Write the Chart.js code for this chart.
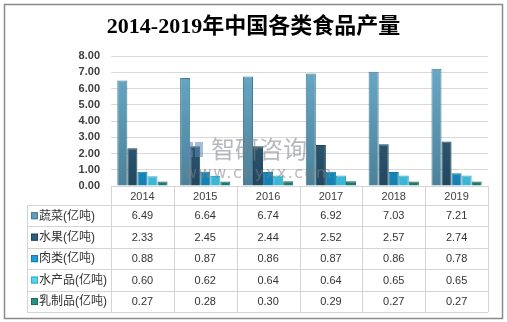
<!DOCTYPE html>
<html>
<head>
<meta charset="utf-8">
<script src="https://cdn.jsdelivr.net/npm/chart.js@4/dist/chart.umd.min.js"></script>
<style>
html,body{margin:0;padding:0;background:#fff;}
canvas{display:block;}
</style>
</head>
<body>
<canvas id="c" width="507" height="322"></canvas>
<script>
const years = ['2014','2015','2016','2017','2018','2019'];
const seriesNames = ['蔬菜(亿吨)','水果(亿吨)','肉类(亿吨)','水产品(亿吨)','乳制品(亿吨)'];
const vegetables = [6.49,6.64,6.74,6.92,7.03,7.21];
const fruit = [2.33,2.45,2.44,2.52,2.57,2.74];
const meat = [0.88,0.87,0.86,0.87,0.86,0.78];
const aquatic = [0.60,0.62,0.64,0.64,0.65,0.65];
const dairy = [0.27,0.28,0.30,0.29,0.27,0.27];
const yTicks = [0,1,2,3,4,5,6,7,8];

const fills = ['#5f9fbd','#2f5f7e','#1ba2de','#58d2ef','#2a9484'];
const lights = ['#6aaccb','#3c6b8a','#22abe6','#66def6','#30a391'];
const darks = ['#4c8198','#22485f','#1580b2','#3ab6d4','#1d776a'];
const edges = ['#467a91','#1f4358','#1379a8','#36a9c5','#1b6c60'];

const FONT = '"Liberation Sans","Noto Sans CJK SC",sans-serif';
const ROW_H = 21.45;
const TABLE_LEFT = 27;
const HEADER_H = 19;

function barFill(i) {
  return function(c) {
    const a = c.chart.chartArea;
    if (!a) return fills[i];
    const g = c.chart.ctx.createLinearGradient(0, a.top, 0, a.bottom);
    g.addColorStop(0, lights[i]);
    g.addColorStop(1, darks[i]);
    return g;
  };
}

const tablePlugin = {
  id: 'dataTable',
  afterDraw(chart) {
    const ctx = chart.ctx;
    const xs = chart.scales.x;
    const area = chart.chartArea;
    const top = area.bottom;
    const rowsTop = top + HEADER_H;
    const nRows = chart.data.datasets.length;
    const bottom = rowsTop + ROW_H * nRows;
    const n = chart.data.labels.length;
    const cw = (area.right - area.left) / n;
    ctx.save();
    ctx.strokeStyle = '#d4d4d4';
    ctx.lineWidth = 1;
    ctx.beginPath();
    ctx.moveTo(area.left, Math.round(top) + 0.5);
    ctx.lineTo(area.right, Math.round(top) + 0.5);
    ctx.stroke();
    for (let r = 0; r <= nRows; r++) {
      const y = Math.round(rowsTop + r * ROW_H) + 0.5;
      ctx.beginPath();
      ctx.moveTo(TABLE_LEFT, y);
      ctx.lineTo(area.right, y);
      ctx.stroke();
    }
    for (let i = 0; i <= n; i++) {
      const x = Math.round(area.left + i * cw) + 0.5;
      ctx.beginPath();
      ctx.moveTo(x, top);
      ctx.lineTo(x, bottom);
      ctx.stroke();
    }
    ctx.beginPath();
    ctx.moveTo(TABLE_LEFT + 0.5, rowsTop);
    ctx.lineTo(TABLE_LEFT + 0.5, bottom);
    ctx.stroke();
    ctx.textBaseline = 'middle';
    chart.data.datasets.forEach((ds, r) => {
      const cy = rowsTop + r * ROW_H + ROW_H / 2 + 0.5;
      ctx.fillStyle = fills[r];
      ctx.fillRect(TABLE_LEFT + 4, cy - 4, 7, 7);
      ctx.strokeStyle = ds.borderColor;
      ctx.strokeRect(TABLE_LEFT + 4.5, cy - 3.5, 6, 6);
      ctx.fillStyle = '#333';
      ctx.font = '12px ' + FONT;
      ctx.textAlign = 'left';
      ctx.fillText(ds.label, TABLE_LEFT + 12, cy);
      ctx.font = '11px ' + FONT;
      ctx.textAlign = 'center';
      ds.data.forEach((v, i) => {
        ctx.fillText(v.toFixed(2), xs.getPixelForValue(i), cy);
      });
    });
    ctx.strokeStyle = '#8a8a8a';
    ctx.lineWidth = 1.5;
    ctx.strokeRect(4.5, 4.5, 498, 314);
    ctx.globalAlpha = 0.55;
    ctx.fillStyle = '#5d86b5';
    ctx.fillRect(186, 142, 7, 6);
    ctx.fillRect(186, 150, 7, 7);
    ctx.fillRect(195, 142, 8, 15);
    ctx.fillStyle = '#7c8086';
    ctx.font = '24px "Noto Sans CJK SC",sans-serif';
    ctx.textAlign = 'left';
    ctx.textBaseline = 'middle';
    ctx.fillText('智研咨询', 211, 149);
    ctx.font = '16px "DejaVu Sans",sans-serif';
    if ('letterSpacing' in ctx) ctx.letterSpacing = '1.5px';
    ctx.fillText('www.chyxx.com', 184, 174);
    ctx.restore();
  }
};

const datasets = [vegetables, fruit, meat, aquatic, dairy].map((d, i) => ({
  label: seriesNames[i],
  data: d,
  backgroundColor: barFill(i),
  borderColor: edges[i],
  borderWidth: 1,
  categoryPercentage: 0.8,
  barPercentage: 1.0
}));

new Chart(document.getElementById('c'), {
  type: 'bar',
  data: { labels: years, datasets },
  options: {
    responsive: false,
    animation: false,
    layout: { padding: { left: 19, right: 19, top: 0, bottom: 117 } },
    plugins: {
      legend: { display: false },
      tooltip: { enabled: false },
      title: {
        display: true,
        text: '2014-2019年中国各类食品产量',
        color: '#000',
        font: { family: '"Liberation Serif","Noto Sans CJK SC",serif', size: 22, weight: 'bold', lineHeight: 1.2 },
        padding: { top: 14, bottom: 15.6 }
      }
    },
    scales: {
      x: {
        grid: { display: false, drawTicks: false },
        border: { display: false },
        ticks: { color: '#404040', font: { family: FONT, size: 11 }, padding: 4 },
        afterFit(s) { s.height = HEADER_H; }
      },
      y: {
        min: 0, max: 8,
        afterBuildTicks(s) { s.ticks = yTicks.map(v => ({ value: v })); },
        grid: { color: '#d9d9d9', drawTicks: false },
        border: { display: false },
        ticks: { color: '#404040', font: { family: FONT, size: 11, weight: 'bold' }, padding: 11, callback: v => Number(v).toFixed(2) },
        afterFit(s) { s.width = 92; }
      }
    }
  },
  plugins: [tablePlugin]
});
</script>
</body>
</html>
